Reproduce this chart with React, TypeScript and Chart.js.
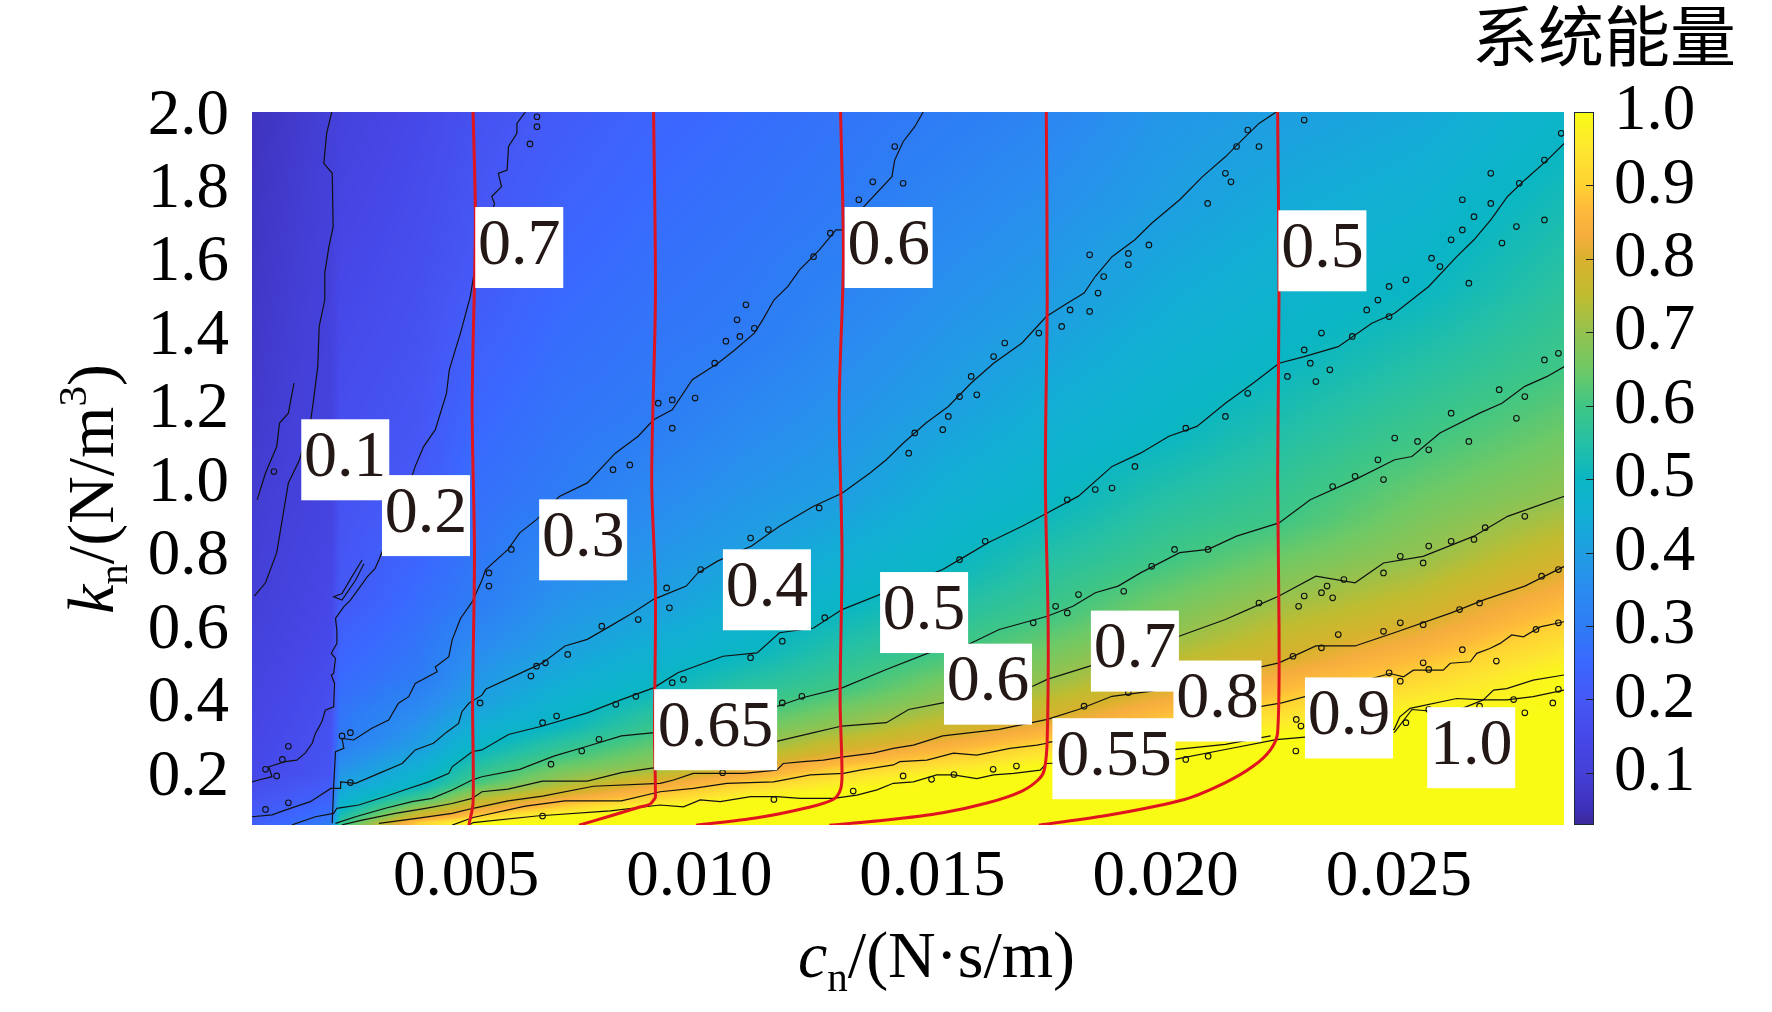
import React, { useEffect, useRef } from 'react'
import { Chart, registerables } from 'chart.js'

Chart.register(...registerables)

type Pair = [number, number]

const serif = '"Liberation Serif", "Times New Roman", serif'
const inkColor = '#231815'

const xTicks = [0.005, 0.01, 0.015, 0.02, 0.025]
const yTicks = [0.2, 0.4, 0.6, 0.8, 1.0, 1.2, 1.4, 1.6, 1.8, 2.0]
const barTicks = [0.1, 0.2, 0.3, 0.4, 0.5, 0.6, 0.7, 0.8, 0.9, 1.0]

// colour bar, value -> colour
const colorStops: [number, string][] = [
  [0.03, '#3b2a98'], [0.05, '#3d30b8'], [0.1, '#4440d8'], [0.15, '#4648e8'],
  [0.2, '#4558f5'], [0.25, '#3a68ff'], [0.3, '#2e7cf5'], [0.35, '#2a8cf0'],
  [0.4, '#1f9ee2'], [0.45, '#12afd4'], [0.5, '#0ab6c4'], [0.55, '#25c0a5'],
  [0.6, '#3fc685'], [0.65, '#6fc965'], [0.7, '#94c24f'], [0.75, '#c0bc30'],
  [0.8, '#d9b22d'], [0.833, '#f7ad3e'], [0.87, '#fdbb3a'], [0.9, '#ffd233'],
  [0.95, '#fde730'], [1.0, '#f9fb15'],
]

// energy read along each cn column: [kn, energy]
const fieldColumns = [0.0004, 0.0021, 0.0023, 0.004, 0.00515, 0.007, 0.00902, 0.011, 0.01306, 0.0152, 0.01746, 0.02, 0.02243, 0.0255, 0.0286]
const fieldProfiles: Pair[][] = [
  [[0.06, 0.22], [0.2, 0.15], [0.68, 0.1], [1.2, 0.08], [2, 0.06]],
  [[0.06, 0.3], [0.12, 0.24], [0.2, 0.19], [0.4, 0.17], [0.6, 0.15], [1, 0.12], [2, 0.1]],
  [[0.06, 0.58], [0.097, 0.5], [0.173, 0.4], [0.29, 0.3], [0.68, 0.2], [2, 0.115]],
  [[0.065, 0.9], [0.08, 0.8], [0.105, 0.7], [0.128, 0.6], [0.165, 0.5], [0.273, 0.4], [0.455, 0.3], [1.035, 0.2], [2, 0.15]],
  [[0.065, 1], [0.08, 0.9], [0.106, 0.8], [0.142, 0.7], [0.174, 0.6], [0.26, 0.5], [0.391, 0.4], [0.6635, 0.3], [1.58, 0.2], [2, 0.18]],
  [[0.085, 1], [0.105, 0.9], [0.14, 0.8], [0.18, 0.7], [0.246, 0.6], [0.328, 0.5], [0.546, 0.4], [0.95, 0.3], [2, 0.21]],
  [[0.106, 1], [0.133, 0.9], [0.178, 0.8], [0.214, 0.7], [0.31, 0.6], [0.432, 0.5], [0.672, 0.4], [1.17, 0.3], [2, 0.24]],
  [[0.125, 1], [0.17, 0.9], [0.215, 0.8], [0.268, 0.7], [0.37, 0.6], [0.523, 0.5], [0.818, 0.4], [1.39, 0.3], [2, 0.26]],
  [[0.151, 1], [0.21, 0.9], [0.26, 0.8], [0.328, 0.7], [0.432, 0.6], [0.645, 0.5], [0.954, 0.4], [1.68, 0.3], [2, 0.28]],
  [[0.187, 1], [0.237, 0.9], [0.3, 0.8], [0.391, 0.7], [0.527, 0.6], [0.754, 0.5], [1.2, 0.4], [2, 0.3]],
  [[0.219, 1], [0.283, 0.9], [0.346, 0.8], [0.455, 0.7], [0.627, 0.6], [0.928, 0.5], [1.443, 0.4], [2, 0.33]],
  [[0.26, 1], [0.335, 0.9], [0.43, 0.8], [0.57, 0.7], [0.777, 0.6], [1.117, 0.5], [1.75, 0.4], [2, 0.38]],
  [[0.301, 1], [0.391, 0.9], [0.505, 0.8], [0.682, 0.7], [0.881, 0.6], [1.316, 0.5], [2, 0.4]],
  [[0.355, 1], [0.473, 0.9], [0.609, 0.8], [0.79, 0.7], [1.11, 0.6], [1.516, 0.5], [2, 0.43]],
  [[0.464, 1], [0.609, 0.9], [0.763, 0.8], [0.945, 0.7], [1.307, 0.6], [1.915, 0.5], [2, 0.49]],
]

// black contour levels, [cn, kn]
const contour01: Pair[] = [[0.00212, 2], [0.00201, 1.942], [0.00195, 1.86], [0.00213, 1.833], [0.00215, 1.688], [0.00206, 1.634], [0.00197, 1.561], [0.00197, 1.488], [0.00185, 1.416], [0.00182, 1.307], [0.00173, 1.216], [0.00167, 1.162], [0.00143, 1.053], [0.00119, 0.99], [0.00094, 0.8], [0.0007, 0.718], [0.00046, 0.682]]
const contour01b: Pair[] = [[0.00131, 1.262], [0.00119, 1.18], [0.001, 1.153], [0.00094, 1.089], [0.0007, 1.017], [0.00052, 0.944]]
const contour02: Pair[] = [[0.00627, 2], [0.00609, 1.969], [0.00609, 1.942], [0.00591, 1.906], [0.00588, 1.842], [0.00569, 1.833], [0.00576, 1.797], [0.00555, 1.77], [0.00561, 1.751], [0.00516, 1.552], [0.00509, 1.497], [0.00488, 1.398], [0.00479, 1.361], [0.00464, 1.298], [0.00458, 1.234], [0.00434, 1.135], [0.00409, 1.089], [0.00391, 1.035], [0.00385, 1.012], [0.00313, 0.78], [0.00305, 0.757], [0.00288, 0.734], [0.0027, 0.702], [0.00252, 0.671], [0.00238, 0.653], [0.0022, 0.621], [0.00223, 0.589], [0.00223, 0.553], [0.00211, 0.526], [0.0022, 0.512], [0.00216, 0.471], [0.00211, 0.467], [0.00218, 0.444], [0.00216, 0.38], [0.00198, 0.371], [0.00191, 0.34], [0.00177, 0.308], [0.0017, 0.281], [0.00155, 0.254], [0.00137, 0.235], [0.00112, 0.231], [0.00077, 0.217], [0.00084, 0.19], [0.00055, 0.181], [0.00041, 0.176]]
const contour02b: Pair[] = [[0.00277, 0.78], [0.00255, 0.734], [0.00234, 0.689], [0.00216, 0.68], [0.00234, 0.671], [0.00263, 0.725], [0.00281, 0.77]]
const contour03: Pair[] = [[0.0148, 2], [0.01462, 1.96], [0.01437, 1.919], [0.01419, 1.869], [0.01413, 1.824], [0.01306, 1.679], [0.01293, 1.679], [0.01257, 1.624], [0.01215, 1.57], [0.0119, 1.525], [0.0116, 1.488], [0.01136, 1.434], [0.01118, 1.398], [0.01076, 1.352], [0.0104, 1.316], [0.00985, 1.271], [0.00942, 1.189], [0.00902, 1.162], [0.00869, 1.117], [0.0082, 1.071], [0.0076, 0.99], [0.007, 0.953], [0.00651, 0.89], [0.00615, 0.854], [0.0059, 0.809], [0.00542, 0.754], [0.00534, 0.725], [0.00513, 0.666], [0.00488, 0.621], [0.0047, 0.562], [0.00463, 0.517], [0.00434, 0.489], [0.00438, 0.476], [0.00391, 0.444], [0.00377, 0.408], [0.00355, 0.39], [0.00334, 0.344], [0.00298, 0.322], [0.00259, 0.29], [0.00234, 0.294], [0.00238, 0.267], [0.0022, 0.258], [0.00216, 0.163], [0.00213, 0.063]]
const contour04: Pair[] = [[0.02237, 2], [0.022, 1.969], [0.02164, 1.924], [0.02128, 1.878], [0.02079, 1.824], [0.0203, 1.761], [0.0197, 1.697], [0.01934, 1.652], [0.01885, 1.606], [0.01849, 1.552], [0.01825, 1.507], [0.01789, 1.479], [0.01744, 1.443], [0.01692, 1.371], [0.01631, 1.316], [0.01583, 1.262], [0.01534, 1.198], [0.01486, 1.153], [0.01437, 1.098], [0.01401, 1.053], [0.01366, 1.017], [0.01306, 0.962], [0.01245, 0.9265], [0.01172, 0.872], [0.01112, 0.818], [0.01039, 0.777], [0.00997, 0.745], [0.00972, 0.709], [0.00902, 0.673], [0.00857, 0.636], [0.00809, 0.6], [0.0076, 0.564], [0.00712, 0.546], [0.00664, 0.5], [0.00603, 0.464], [0.00542, 0.428], [0.00534, 0.412], [0.00506, 0.39], [0.00491, 0.367], [0.00484, 0.335], [0.00459, 0.312], [0.0043, 0.281], [0.00391, 0.263], [0.00363, 0.226], [0.00313, 0.199], [0.00263, 0.172], [0.00231, 0.176], [0.00231, 0.158], [0.0021, 0.158], [0.00166, 0.122], [0.00112, 0.099], [0.00084, 0.086], [0.00041, 0.081]]
const contour05: Pair[] = [[0.02855, 1.915], [0.02818, 1.869], [0.0277, 1.815], [0.02733, 1.77], [0.02697, 1.706], [0.02661, 1.652], [0.02624, 1.606], [0.02564, 1.525], [0.02491, 1.452], [0.02442, 1.425], [0.0237, 1.361], [0.02297, 1.334], [0.02243, 1.316], [0.02188, 1.262], [0.02128, 1.207], [0.02067, 1.144], [0.02007, 1.117], [0.01946, 1.071], [0.01885, 1.035], [0.01813, 0.954], [0.01746, 0.908], [0.01692, 0.872], [0.01619, 0.827], [0.0157, 0.79], [0.01522, 0.754], [0.01306, 0.645], [0.01245, 0.595], [0.01172, 0.582], [0.01124, 0.527], [0.01051, 0.518], [0.00954, 0.473], [0.00902, 0.432], [0.00833, 0.4], [0.0076, 0.364], [0.00664, 0.328], [0.00591, 0.305], [0.00534, 0.263], [0.00513, 0.258], [0.0047, 0.217], [0.00463, 0.199], [0.0042, 0.176], [0.00377, 0.158], [0.00327, 0.136], [0.0027, 0.113], [0.00223, 0.104], [0.00216, 0.09], [0.00177, 0.081], [0.00127, 0.059]]
const contour06: Pair[] = [[0.02855, 1.307], [0.02818, 1.28], [0.0277, 1.253], [0.02721, 1.207], [0.02673, 1.18], [0.02588, 1.126], [0.02528, 1.062], [0.02491, 1.053], [0.02406, 0.999], [0.0231, 0.944], [0.02243, 0.881], [0.02152, 0.845], [0.02091, 0.809], [0.0203, 0.8], [0.01946, 0.745], [0.01898, 0.709], [0.01849, 0.691], [0.01801, 0.654], [0.01746, 0.627], [0.01643, 0.591], [0.0157, 0.546], [0.01492, 0.527], [0.01401, 0.482], [0.01306, 0.432], [0.01221, 0.405], [0.01168, 0.382], [0.00904, 0.31], [0.00833, 0.301], [0.0076, 0.273], [0.00688, 0.246], [0.00615, 0.21], [0.00534, 0.19], [0.00513, 0.181], [0.0047, 0.154], [0.00427, 0.131], [0.00384, 0.122], [0.00327, 0.104], [0.00263, 0.081], [0.0022, 0.063]]
const contour07: Pair[] = [[0.02855, 0.954], [0.02733, 0.899], [0.02661, 0.845], [0.02552, 0.79], [0.02467, 0.772], [0.02406, 0.718], [0.02322, 0.736], [0.02243, 0.682], [0.02176, 0.645], [0.02128, 0.618], [0.0203, 0.573], [0.01837, 0.491], [0.01746, 0.455], [0.01716, 0.437], [0.01522, 0.391], [0.01449, 0.373], [0.01401, 0.337], [0.01306, 0.328], [0.01245, 0.31], [0.01168, 0.287], [0.00902, 0.214], [0.00833, 0.201], [0.0076, 0.178], [0.00664, 0.178], [0.0059, 0.156], [0.00534, 0.149], [0.00513, 0.131], [0.0047, 0.117], [0.00413, 0.104], [0.00348, 0.09], [0.00277, 0.072], [0.00234, 0.059]]
const contour08: Pair[] = [[0.02855, 0.763], [0.0277, 0.709], [0.02685, 0.673], [0.02612, 0.636], [0.0249, 0.582], [0.02406, 0.546], [0.02322, 0.546], [0.02243, 0.5], [0.0197, 0.423], [0.01885, 0.409], [0.01813, 0.373], [0.01746, 0.346], [0.01643, 0.319], [0.01522, 0.301], [0.01459, 0.276], [0.01416, 0.267], [0.01373, 0.254], [0.01309, 0.244], [0.01266, 0.235], [0.01223, 0.231], [0.0118, 0.226], [0.01166, 0.208], [0.01095, 0.199], [0.0105, 0.199], [0.00987, 0.199], [0.00945, 0.181], [0.00916, 0.172], [0.00773, 0.164], [0.00664, 0.137], [0.0059, 0.124], [0.00515, 0.104], [0.0047, 0.09], [0.00398, 0.077], [0.00313, 0.063]]
const contour09: Pair[] = [[0.02854, 0.612], [0.02803, 0.598], [0.02767, 0.571], [0.02742, 0.576], [0.02717, 0.553], [0.02695, 0.539], [0.02667, 0.526], [0.02653, 0.503], [0.0261, 0.499], [0.02595, 0.48], [0.02531, 0.48], [0.0251, 0.462], [0.02481, 0.471], [0.02249, 0.391], [0.01746, 0.283], [0.01745, 0.281], [0.01724, 0.276], [0.01666, 0.267], [0.01595, 0.249], [0.01545, 0.254], [0.01488, 0.235], [0.0143, 0.231], [0.01416, 0.222], [0.01345, 0.208], [0.01309, 0.199], [0.01238, 0.195], [0.01159, 0.176], [0.01059, 0.172], [0.00987, 0.158], [0.00916, 0.149], [0.00833, 0.124], [0.00712, 0.124], [0.00627, 0.11], [0.00515, 0.079], [0.0047, 0.058]]
const contour10: Pair[] = [[0.02854, 0.467], [0.02788, 0.453], [0.02731, 0.43], [0.02703, 0.426], [0.02681, 0.399], [0.02624, 0.403], [0.02524, 0.376], [0.02502, 0.353], [0.0249, 0.319], [0.02237, 0.291], [0.02128, 0.264], [0.02019, 0.237], [0.01744, 0.226], [0.01731, 0.208], [0.01674, 0.199], [0.01631, 0.195], [0.01595, 0.185], [0.01545, 0.195], [0.01509, 0.195], [0.01459, 0.176], [0.01416, 0.172], [0.01381, 0.154], [0.01338, 0.14], [0.01288, 0.131], [0.01216, 0.131], [0.01166, 0.136], [0.0111, 0.136], [0.01045, 0.122], [0.01002, 0.127], [0.00966, 0.108], [0.00916, 0.113], [0.00809, 0.097], [0.00651, 0.083], [0.00515, 0.065], [0.00506, 0.058]]
const contour10b: Pair[] = [[0.02854, 0.426], [0.02788, 0.408], [0.02731, 0.399], [0.02681, 0.399], [0.02612, 0.364], [0.02528, 0.373], [0.0249, 0.31]]
const contour10c: Pair[] = [[0.02019, 0.264], [0.02128, 0.278], [0.02225, 0.301]]
const contourLines = [contour01, contour01b, contour02, contour02b, contour03, contour04, contour05, contour06, contour07, contour08, contour09, contour10, contour10b, contour10c]

// small closed contour islands around the noisy parts
const contourIslands: Pair[] = [
  [0.01342, 1.761], [0.01372, 1.81], [0.01245, 1.606], [0.01281, 1.67], [0.011, 1.475], [0.01118, 1.411], [0.01081, 1.434], [0.01057, 1.376], [0.01087, 1.389], [0.01033, 1.316], [0.00991, 1.221], [0.00912, 1.207], [0.00942, 1.216], [0.00942, 1.139], [0.00851, 1.039], [0.00815, 1.026], [0.00652, 1.987], [0.00652, 1.96], [0.00637, 1.913], [0.00088, 1.021],
  [0.00549, 0.745], [0.00549, 0.709], [0.00597, 0.809], [0.00651, 0.491], [0.0067, 0.5], [0.00639, 0.464], [0.00718, 0.523], [0.00936, 0.65], [0.00869, 0.618], [0.00791, 0.6], [0.0093, 0.704], [0.01003, 0.754], [0.0111, 0.84], [0.01148, 0.863], [0.01257, 0.922],
  [0.0053, 0.391], [0.00864, 0.409], [0.00821, 0.387], [0.00694, 0.355], [0.00664, 0.337], [0.00942, 0.446], [0.00966, 0.455], [0.0111, 0.514], [0.01178, 0.559], [0.01269, 0.623], [0.00785, 0.292], [0.00748, 0.26], [0.00682, 0.224], [0.01178, 0.391], [0.0122, 0.409], [0.0105, 0.201], [0.0116, 0.228], [0.0116, 0.128], [0.0133, 0.151], [0.00664, 0.083],
  [0.0007, 0.101], [0.00119, 0.119], [0.00234, 0.301], [0.00252, 0.31], [0.00119, 0.273], [0.00106, 0.237], [0.0007, 0.21], [0.00094, 0.192], [0.00252, 0.174],
  [0.01419, 1.906], [0.01437, 1.806], [0.02297, 1.978], [0.02176, 1.951], [0.02152, 1.906], [0.022, 1.906], [0.02128, 1.833], [0.0214, 1.81], [0.0209, 1.751], [0.01964, 1.638], [0.0192, 1.615], [0.0192, 1.584], [0.01837, 1.611], [0.01867, 1.552], [0.01855, 1.507], [0.01795, 1.461], [0.01777, 1.416], [0.01837, 1.457], [0.01728, 1.398], [0.01655, 1.371], [0.01631, 1.334], [0.01583, 1.28], [0.01595, 1.23], [0.01558, 1.225], [0.01522, 1.135], [0.01534, 1.171], [0.01462, 1.126], [0.01449, 1.071],
  [0.02848, 1.942], [0.02812, 1.869], [0.02758, 1.806], [0.02697, 1.833], [0.02697, 1.751], [0.02636, 1.761], [0.02661, 1.715], [0.02636, 1.679], [0.02752, 1.688], [0.02721, 1.643], [0.02812, 1.706], [0.02612, 1.652], [0.0257, 1.602], [0.02588, 1.579], [0.0265, 1.534], [0.02515, 1.543], [0.02479, 1.525], [0.02431, 1.461], [0.02455, 1.488], [0.02479, 1.443], [0.024, 1.389], [0.02334, 1.398], [0.02297, 1.352], [0.02261, 1.28], [0.0231, 1.316], [0.02352, 1.298], [0.02322, 1.266], [0.02176, 1.234], [0.02128, 1.171], [0.02043, 1.139], [0.01934, 1.035], [0.01885, 0.976], [0.01849, 0.972], [0.01789, 0.944],
  [0.02842, 1.343], [0.02812, 1.325], [0.0277, 1.225], [0.02715, 1.244], [0.02752, 1.166], [0.02612, 1.18], [0.0265, 1.103], [0.0254, 1.103], [0.02491, 1.112], [0.02455, 1.053], [0.02564, 1.08], [0.02467, 0.999], [0.02406, 1.008], [0.02358, 0.98],
  [0.0277, 0.899], [0.02685, 0.868], [0.02661, 0.836], [0.02612, 0.831], [0.02564, 0.818], [0.02503, 0.79], [0.02552, 0.772], [0.02467, 0.745], [0.02382, 0.727], [0.02346, 0.709], [0.02358, 0.677], [0.02297, 0.682], [0.02285, 0.654], [0.02334, 0.691], [0.022, 0.663], [0.02091, 0.809], [0.02019, 0.809], [0.0197, 0.763], [0.0191, 0.695], [0.01813, 0.686], [0.01764, 0.654], [0.01789, 0.636], [0.01716, 0.609], [0.01613, 0.831], [0.01558, 0.781],
  [0.02842, 0.754], [0.02806, 0.736], [0.02673, 0.663], [0.0263, 0.645], [0.02552, 0.604], [0.02503, 0.609], [0.02467, 0.586], [0.0237, 0.577], [0.02334, 0.541], [0.02273, 0.518],
  [0.02842, 0.609], [0.02794, 0.591], [0.02709, 0.505], [0.02636, 0.536], [0.02552, 0.5], [0.02564, 0.482], [0.02479, 0.473], [0.02503, 0.45], [0.0228, 0.346], [0.02279, 0.26], [0.0192, 0.419], [0.01825, 0.382], [0.0168, 0.219], [0.0163, 0.21], [0.01546, 0.196], [0.01498, 0.183], [0.01437, 0.192],
  [0.02842, 0.428], [0.0283, 0.391], [0.0277, 0.364], [0.02746, 0.4], [0.02673, 0.382], [0.02564, 0.373], [0.02515, 0.337], [0.0229, 0.328], [0.02043, 0.237], [0.02091, 0.246],
]

// red curves
const red07: Pair[] = [[0.00515, 2], [0.0052, 1.7], [0.00513, 1.2], [0.00518, 0.8], [0.00514, 0.4], [0.00515, 0.12], [0.00506, 0.058]]
const red065: Pair[] = [[0.00902, 2], [0.00906, 1.5], [0.00898, 1], [0.00906, 0.7], [0.00904, 0.3], [0.00906, 0.135], [0.00903, 0.128], [0.00894, 0.115], [0.00869, 0.106], [0.00809, 0.083], [0.00742, 0.058]]
const red06: Pair[] = [[0.01303, 2], [0.01309, 1.6], [0.013, 1.2], [0.01306, 0.8], [0.01302, 0.4], [0.01306, 0.201], [0.01303, 0.156], [0.01287, 0.128], [0.01233, 0.106], [0.01124, 0.078], [0.00993, 0.058]]
const red055: Pair[] = [[0.01744, 2], [0.01746, 1.5], [0.01742, 1], [0.01748, 0.6], [0.01746, 0.292], [0.0174, 0.21], [0.01728, 0.183], [0.01692, 0.151], [0.01619, 0.119], [0.01522, 0.092], [0.01401, 0.072], [0.01279, 0.058]]
const red05: Pair[] = [[0.0224, 2], [0.02243, 1.5], [0.0224, 1], [0.02243, 0.6], [0.0224, 0.31], [0.02225, 0.264], [0.02188, 0.219], [0.02128, 0.174], [0.0204, 0.128], [0.01885, 0.087], [0.01728, 0.058]]
const redLines = [red07, red065, red06, red055, red05]

// white level labels, painted in this order
const labelTexts = ['0.1', '0.2', '0.3', '0.7', '0.6', '0.5', '0.4', '0.5', '0.65', '0.6', '0.8', '0.55', '0.7', '0.9', '1.0']
const labelCn = [0.00241, 0.00414, 0.00751, 0.00614, 0.01406, 0.02336, 0.01145, 0.01482, 0.01035, 0.01619, 0.02111, 0.01889, 0.01934, 0.02393, 0.02655]
const labelKn = [1.053, 0.901, 0.835, 1.631, 1.631, 1.622, 0.699, 0.637, 0.318, 0.442, 0.396, 0.239, 0.532, 0.35, 0.269]

const lerp = (a: number, b: number, t: number) => a + (b - a) * t

const hexRgb = (hex: string) => [1, 3, 5].map((i) => parseInt(hex.slice(i, i + 2), 16))

const colorAt = (v: number) => {
  let i = 1
  while (i < colorStops.length - 1 && colorStops[i][0] < v) i++
  const [v0, c0] = colorStops[i - 1]
  const [v1, c1] = colorStops[i]
  const t = Math.min(1, Math.max(0, (v - v0) / (v1 - v0)))
  const a = hexRgb(c0)
  const b = hexRgb(c1)
  return [lerp(a[0], b[0], t), lerp(a[1], b[1], t), lerp(a[2], b[2], t)]
}

const energyAt = (profile: Pair[], k: number) => {
  if (k <= profile[0][0]) return profile[0][1]
  for (let i = 1; i < profile.length; i++) {
    if (k <= profile[i][0]) {
      const [k0, e0] = profile[i - 1]
      const [k1, e1] = profile[i]
      return lerp(e0, e1, (k - k0) / (k1 - k0))
    }
  }
  return profile[profile.length - 1][1]
}

// shades the plot area from the read profiles, through the chart's own scales
const fieldPlugin = {
  id: 'field',
  beforeDatasetsDraw(chart: any) {
    const { ctx, chartArea: area, scales } = chart
    const w = Math.round(area.right - area.left)
    const h = Math.round(area.bottom - area.top)
    const off = document.createElement('canvas')
    off.width = w
    off.height = h
    const octx = off.getContext('2d')!
    const img = octx.createImageData(w, h)
    const rows = fieldProfiles.map((p) => {
      const out = new Float32Array(h)
      for (let r = 0; r < h; r++) out[r] = energyAt(p, scales.y.getValueForPixel(area.top + r + 0.5))
      return out
    })
    const lut: number[][] = []
    for (let i = 0; i <= 1000; i++) lut.push(colorAt(i / 1000))
    for (let c = 0; c < w; c++) {
      const xv = scales.x.getValueForPixel(area.left + c + 0.5)
      let j = 1
      while (j < fieldColumns.length - 1 && fieldColumns[j] < xv) j++
      const t = Math.min(1, Math.max(0, (xv - fieldColumns[j - 1]) / (fieldColumns[j] - fieldColumns[j - 1])))
      for (let r = 0; r < h; r++) {
        const e = lerp(rows[j - 1][r], rows[j][r], t)
        const rgb = lut[Math.round(Math.min(1, Math.max(0, e)) * 1000)]
        const o = (r * w + c) * 4
        img.data[o] = rgb[0]
        img.data[o + 1] = rgb[1]
        img.data[o + 2] = rgb[2]
        img.data[o + 3] = 255
      }
    }
    octx.putImageData(img, 0, 0)
    ctx.drawImage(off, area.left, area.top)
  },
}

const overlayPlugin = {
  id: 'overlay',
  afterDatasetsDraw(chart: any) {
    const { ctx, scales } = chart
    ctx.save()
    // level labels
    ctx.textAlign = 'center'
    ctx.textBaseline = 'middle'
    ctx.font = `66px ${serif}`
    labelTexts.forEach((t, i) => {
      const cx = scales.x.getPixelForValue(labelCn[i])
      const cy = scales.y.getPixelForValue(labelKn[i])
      const bw = t.length > 3 ? 123 : 88
      ctx.fillStyle = '#ffffff'
      ctx.fillRect(cx - bw / 2, cy - 40.5, bw, 81)
      ctx.fillStyle = inkColor
      ctx.fillText(t, cx, cy - 1)
    })
    // colour bar
    const top = scales.bar.getPixelForValue(1)
    const bottom = scales.bar.getPixelForValue(scales.bar.min)
    const grad = ctx.createLinearGradient(0, bottom, 0, top)
    const span = 1 - scales.bar.min
    colorStops.forEach(([v, c]) => {
      grad.addColorStop(Math.max(0, (v - scales.bar.min) / span), c)
    })
    ctx.fillStyle = grad
    ctx.fillRect(1574, top, 20, bottom - top)
    ctx.strokeStyle = '#1c2a3a'
    ctx.lineWidth = 1
    ctx.strokeRect(1574.5, top + 0.5, 19, bottom - top - 1)
    ctx.strokeStyle = '#222222'
    barTicks.forEach((v) => {
      if (v === 1) return
      const y = Math.round(scales.bar.getPixelForValue(v)) + 0.5
      ctx.beginPath()
      ctx.moveTo(1586, y)
      ctx.lineTo(1594, y)
      ctx.stroke()
    })
    ctx.restore()
  },
  afterDraw(chart: any) {
    const { ctx } = chart
    const seq = (parts: [string, string, number][]) => {
      let x = 0
      parts.forEach(([text, font, dy]) => {
        ctx.font = font
        ctx.fillText(text, x, dy)
        x += ctx.measureText(text).width
      })
    }
    const main = `66px ${serif}`
    const ital = `italic 66px ${serif}`
    const small = `41px ${serif}`
    ctx.save()
    ctx.fillStyle = '#000000'
    ctx.textAlign = 'left'
    ctx.textBaseline = 'alphabetic'
    ctx.save()
    ctx.translate(798, 977)
    seq([['c', ital, 0], ['n', small, 14], ['/(N·s/m)', main, 0]])
    ctx.restore()
    ctx.save()
    ctx.translate(113, 614)
    ctx.rotate(-Math.PI / 2)
    seq([['k', ital, 0], ['n', small, 14], ['/(N/m', main, 0], ['3', small, -27], [')', main, 0]])
    ctx.restore()
    ctx.font = `400 66px "Noto Sans CJK SC", sans-serif`
    ctx.fillText('系统能量', 1472, 61)
    ctx.restore()
  },
}

const toPoints = (line: Pair[]) => line.map(([x, y]) => ({ x, y }))

export default function App() {
  const canvasRef = useRef<HTMLCanvasElement>(null)

  useEffect(() => {
    if (!canvasRef.current) return
    const chart = new Chart(canvasRef.current, {
      type: 'scatter',
      data: {
        datasets: [
          ...contourLines.map((line) => ({
            data: toPoints(line),
            showLine: true,
            borderColor: '#111111',
            borderWidth: 1.2,
            pointRadius: 0,
            order: 3,
          })),
          {
            data: toPoints(contourIslands),
            showLine: false,
            pointRadius: 2.8,
            pointBorderWidth: 1.1,
            pointBorderColor: '#111111',
            pointBackgroundColor: 'rgba(0,0,0,0)',
            order: 2,
          },
          ...redLines.map((line) => ({
            data: toPoints(line),
            showLine: true,
            borderColor: '#e0141e',
            borderWidth: 3,
            tension: 0.3,
            pointRadius: 0,
            order: 1,
          })),
        ],
      },
      plugins: [fieldPlugin, overlayPlugin],
      options: {
        responsive: false,
        devicePixelRatio: 1,
        animation: false,
        layout: { padding: { top: 112, left: 0, right: 0, bottom: 0 } },
        plugins: { legend: { display: false }, tooltip: { enabled: false } },
        scales: {
          x: {
            type: 'linear',
            min: 0.00041,
            max: 0.02854,
            grid: { display: false },
            border: { display: false },
            afterFit: (s: any) => { s.height = 187 },
            afterBuildTicks: (s: any) => { s.ticks = xTicks.map((value) => ({ value })) },
            ticks: {
              color: '#000000',
              font: { family: serif, size: 65 },
              padding: 6,
              maxRotation: 0,
              autoSkip: false,
              callback: (v: any) => Number(v).toFixed(3),
            },
          },
          y: {
            type: 'linear',
            min: 0.0585,
            max: 2,
            grid: { display: false },
            border: { display: false },
            afterFit: (s: any) => { s.width = 252 },
            afterBuildTicks: (s: any) => { s.ticks = yTicks.map((value) => ({ value })) },
            ticks: {
              color: '#000000',
              // empty first line with a tight line height nudges the number down a little
              font: { family: serif, size: 65, lineHeight: 0.138 },
              padding: 15,
              autoSkip: false,
              callback: (v: any) => ['', Number(v).toFixed(1)],
            },
          },
          bar: {
            type: 'linear',
            position: 'right',
            min: 0.029,
            max: 1,
            grid: { display: false },
            border: { display: false },
            afterFit: (s: any) => { s.width = 208 },
            afterBuildTicks: (s: any) => { s.ticks = barTicks.map((value) => ({ value })) },
            ticks: {
              color: '#000000',
              font: { family: serif, size: 65 },
              padding: 42,
              autoSkip: false,
              callback: (v: any) => Number(v).toFixed(1),
            },
          },
        },
      },
    } as any)
    return () => chart.destroy()
  }, [])

  return (
    <canvas
      ref={canvasRef}
      width={1772}
      height={1012}
      style={{ position: 'absolute', left: 0, top: 0, width: 1772, height: 1012, background: '#ffffff' }}
    />
  )
}
